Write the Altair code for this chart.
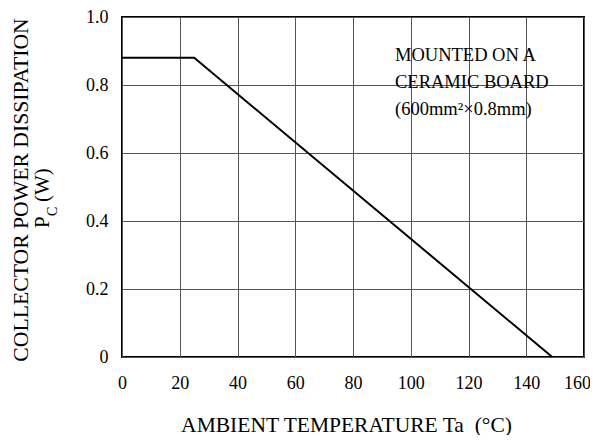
import altair as alt
import pandas as pd

# Derating curve (Ta in °C, Pc in W)
temps = [0, 25, 149]
power = [0.88, 0.88, 0.0]

x_ticks = [0, 20, 40, 60, 80, 100, 120, 140, 160]
y_ticks = [0, 0.2, 0.4, 0.6, 0.8, 1.0]

x_title = "AMBIENT TEMPERATURE Ta\u00a0 (°C)"
y_title_1 = "COLLECTOR POWER DISSIPATION"
y_title_p = "P"
y_title_sub = "C"
y_title_w = "(W)"
note_lines = ["MOUNTED ON A", "CERAMIC BOARD", "(600mm²×0.8mm)"]

FONT = "'Liberation Serif', 'Times New Roman', Times, 'DejaVu Serif', serif"

df = pd.DataFrame({"Ta": temps, "Pc": power})
one = pd.DataFrame({"k": [0]})

base = alt.Chart(df)

line = base.mark_line(color="black", strokeWidth=2).encode(
    x=alt.X("Ta:Q", scale=alt.Scale(domain=[0, 160], nice=False),
            axis=alt.Axis(values=x_ticks, title=x_title, grid=True,
                          ticks=False, tickSize=0, domain=False,
                          labelPadding=17, labelFontSize=18,
                          labelFont=FONT, titleFont=FONT,
                          titleFontSize=21.5, titleFontWeight="normal",
                          titleBaseline="alphabetic", titleY=74, titleX=224,
                          labelFlush=False,
                          labelOffset={"condition": {"test": "datum.value == 160", "value": -7}, "value": 0})),
    y=alt.Y("Pc:Q", scale=alt.Scale(domain=[0, 1.0], nice=False),
            axis=alt.Axis(values=y_ticks, title=None, grid=True,
                          ticks=False, tickSize=0, domain=False,
                          labelPadding=14, labelFontSize=18,
                          labelFont=FONT, labelFlush=False,
                          labelExpr="datum.value == 0 ? '0' : format(datum.value, '.1f')")),
)

t_main = alt.Chart(one).mark_text(
    font=FONT, fontSize=21.7, angle=270, align="center", baseline="alphabetic", color="black"
).encode(x=alt.value(-94), y=alt.value(173), text=alt.value(y_title_1))

t_p = alt.Chart(one).mark_text(
    font=FONT, fontSize=21, angle=270, align="left", baseline="alphabetic", color="black"
).encode(x=alt.value(-73), y=alt.value(211), text=alt.value(y_title_p))

t_c = alt.Chart(one).mark_text(
    font=FONT, fontSize=14, angle=270, align="left", baseline="alphabetic", color="black"
).encode(x=alt.value(-65), y=alt.value(199), text=alt.value(y_title_sub))

t_w = alt.Chart(one).mark_text(
    font=FONT, fontSize=21, angle=270, align="left", baseline="alphabetic", color="black"
).encode(x=alt.value(-73), y=alt.value(185), text=alt.value(y_title_w))

note = alt.Chart(one).mark_text(
    font=FONT, fontSize=18.5, align="left", baseline="alphabetic", color="black",
    lineBreak="\n", lineHeight=27
).encode(x=alt.value(273), y=alt.value(44), text=alt.value("\n".join(note_lines)))

chart = alt.layer(line, t_main, t_p, t_c, t_w, note).properties(
    width=462, height=340,
    autosize=alt.AutoSizeParams(type="none"),
    padding={"left": 114, "top": 9, "right": 6, "bottom": 78},
    background="white",
).configure_view(
    stroke="black", strokeWidth=2
).configure_axis(
    gridColor="#555555", gridWidth=1, gridOpacity=1,
    labelFont=FONT, titleFont=FONT, labelColor="black", titleColor="black",
)

chart.save("out.html", embed_options={"renderer": "svg", "actions": False})
